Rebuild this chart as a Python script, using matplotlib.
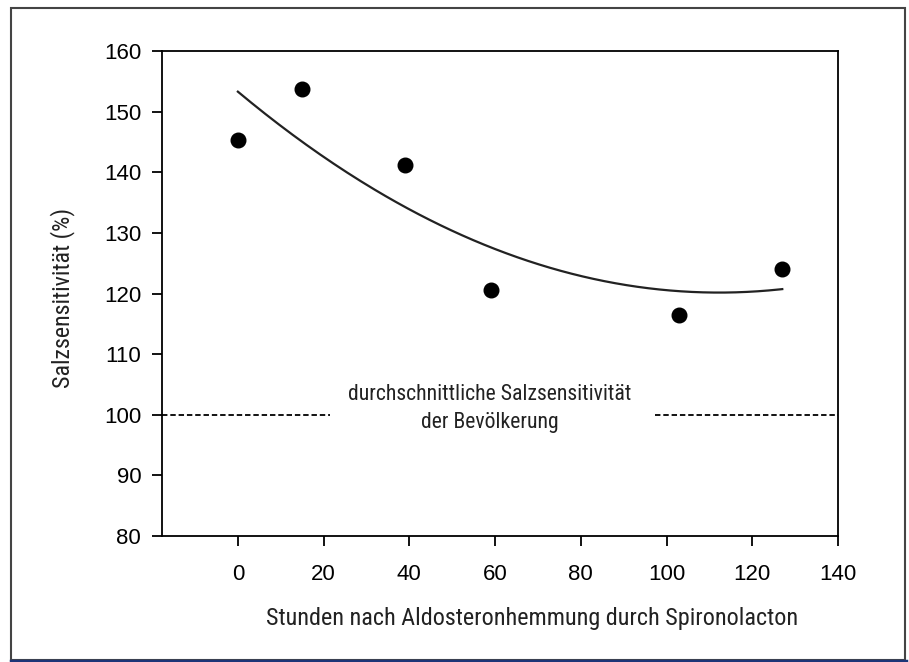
import numpy as np
import matplotlib
matplotlib.use("Agg")
import matplotlib.pyplot as plt
from matplotlib.patches import Rectangle
from matplotlib.lines import Line2D

plt.rcParams['font.family'] = ['Liberation Sans', 'DejaVu Sans']

# Data
hours = [0, 15, 39, 59, 103, 127]
sensitivity = [145.4, 153.7, 141.2, 120.5, 116.4, 124.1]
baseline = 100
x_ticks = [0, 20, 40, 60, 80, 100, 120, 140]
y_ticks = [80, 90, 100, 110, 120, 130, 140, 150, 160]

W, H = 909, 662
fig = plt.figure(figsize=(W / 100, H / 100), dpi=100)
narrow = ['Roboto Condensed', 'DejaVu Sans']

# plot area in pixels: left 162, right 838, top 51, bottom 536
ax = fig.add_axes([162 / W, 1 - 536 / H, (838 - 162) / W, (536 - 51) / H])
ax.set_xlim(-17.7, 140)
ax.set_ylim(80, 160)
ax.set_xticks(x_ticks)
ax.set_yticks(y_ticks)
ax.tick_params(axis='both', direction='out', length=7, width=1.3, labelsize=16, colors='black')
ax.tick_params(axis='x', pad=13)
ax.tick_params(axis='y', pad=8)
for lab in ax.get_xticklabels() + ax.get_yticklabels():
    lab.set_family(['Liberation Sans', 'DejaVu Sans'])
for s in ax.spines.values():
    s.set_linewidth(1.3)

# quadratic regression curve
coef = np.polyfit(hours, sensitivity, 2)
xc = np.linspace(min(hours), max(hours), 200)
ax.plot(xc, np.polyval(coef, xc), color='#222222', lw=1.6)

ax.plot(hours, sensitivity, 'o', color='black', markersize=10.5, ls='none')

# dashed baseline segments
ax.plot([-17.7, 21.5], [baseline, baseline], ls=(0, (3, 1.6)), color='black', lw=1.3)
ax.plot([97.3, 140], [baseline, baseline], ls=(0, (3, 1.6)), color='black', lw=1.3)

ax.text(58.8, 101.0, 'durchschnittliche Salzsensitivität\nder Bevölkerung', ha='center', va='center',
        fontsize=15.7, family=narrow, color='#222222', linespacing=1.4)

fig.text(63 / W, 1 - 298 / H, 'Salzsensitivität (%)', rotation=90, ha='center', va='center',
         fontsize=17.3, family=narrow, color='#222222')
fig.text(532 / W, 1 - 618 / H, 'Stunden nach Aldosteronhemmung durch Spironolacton', ha='center', va='center',
         fontsize=17.4, family=narrow, color='#222222')

# frame
fig.add_artist(Rectangle((11 / W, 2 / H), (905 - 11) / W, (654 - 2) / H, transform=fig.transFigure,
                         fill=False, edgecolor='#444444', lw=1.5))
fig.add_artist(Line2D([11 / W, 906 / W], [1.5 / H, 1.5 / H], transform=fig.transFigure, color='#1c3578', lw=2.5))

fig.savefig('out.png', dpi=100)
